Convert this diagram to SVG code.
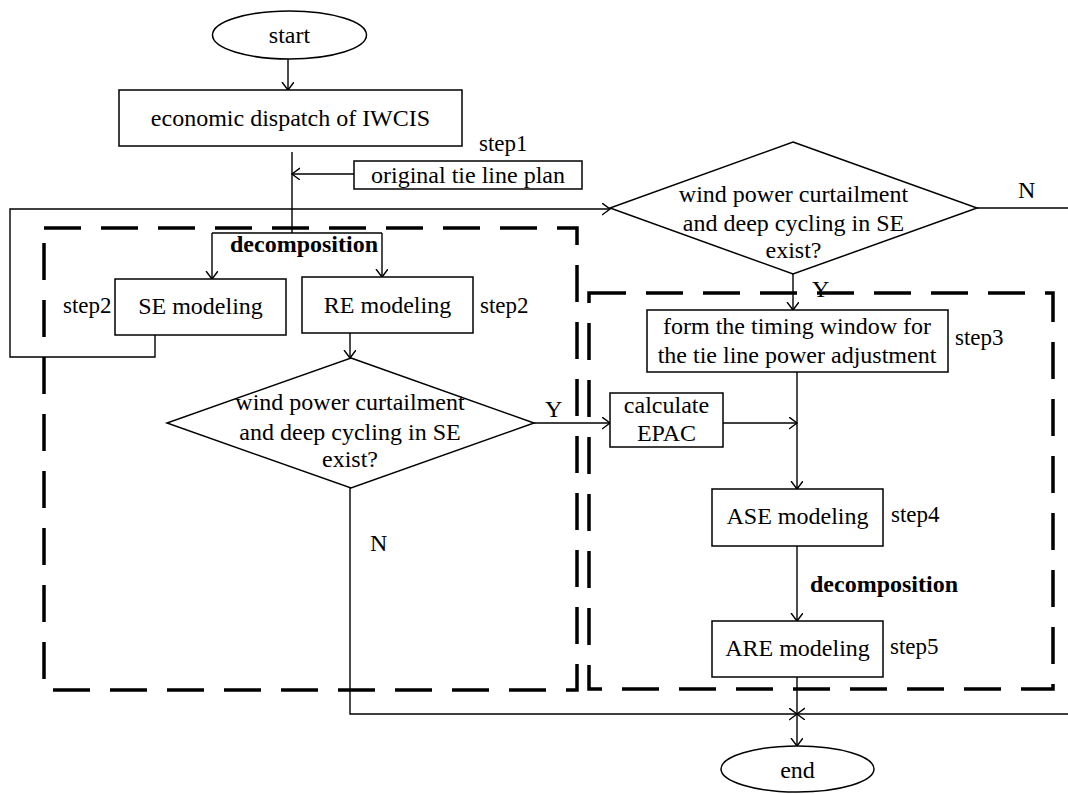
<svg xmlns="http://www.w3.org/2000/svg" width="1068" height="794" viewBox="0 0 1068 794">
<style>
text{font-family:"Liberation Serif","Times New Roman",serif;font-size:24px;fill:#000;text-anchor:middle}
.b{font-weight:bold}
.s{font-size:23px;text-anchor:start}
.l{text-anchor:start}
.n{fill:#fff;stroke:#000;stroke-width:1.5}
.c{fill:none;stroke:#000;stroke-width:1.4}
.d{fill:none;stroke:#000;stroke-width:3.5;stroke-dasharray:37 20}
</style>
<defs>
<marker id="a" markerUnits="userSpaceOnUse" markerWidth="12" markerHeight="14" refX="8" refY="6" orient="auto" viewBox="0 0 12 14">
<path d="M0,0 L8,6 L0,12" fill="none" stroke="#000" stroke-width="1.4"/>
</marker>
</defs>
<rect width="1068" height="794" fill="#fff"/>
<g id="regions">
<rect class="d" x="44" y="228" width="533" height="462"/>
<rect class="d" x="589" y="293" width="464" height="396"/>
</g>
<g id="connectors">
<path class="c" d="M288,59 V90" marker-end="url(#a)"/>
<path class="c" d="M292,152 V233"/>
<path class="c" d="M354,174 H292" marker-end="url(#a)"/>
<path class="c" d="M212,233 H382"/>
<path class="c" d="M212,233 V279" marker-end="url(#a)"/>
<path class="c" d="M382,233 V277" marker-end="url(#a)"/>
<path class="c" d="M155,335 V357 H10 V209 H610" marker-end="url(#a)"/>
<path class="c" d="M350,333 V358" marker-end="url(#a)"/>
<path class="c" d="M534,423 H610" marker-end="url(#a)"/>
<path class="c" d="M977,208 H1068"/>
<path class="c" d="M793,274 V310" marker-end="url(#a)"/>
<path class="c" d="M797,372 V489" marker-end="url(#a)"/>
<path class="c" d="M723,423 H797" marker-end="url(#a)"/>
<path class="c" d="M797,546 V621" marker-end="url(#a)"/>
<path class="c" d="M797,677 V746" marker-end="url(#a)"/>
<path class="c" d="M350,488 V714 H797" marker-end="url(#a)"/>
<path class="c" d="M1068,714 H797" marker-end="url(#a)"/>
<text x="370" y="551" class="l">N</text>
<text x="545" y="417" class="l">Y</text>
<text x="812" y="297" class="l">Y</text>
<text x="1018" y="198" class="l">N</text>
<text x="304" y="252" class="b">decomposition</text>
<text x="884" y="592" class="b">decomposition</text>
</g>
<g id="start">
<ellipse class="n" cx="289.5" cy="35" rx="77" ry="24"/>
<text x="289.5" y="43">start</text>
</g>
<g id="dispatch">
<rect class="n" x="119" y="90" width="343" height="56"/>
<text x="290.5" y="126">economic dispatch of IWCIS</text>
<text x="479" y="151" class="s">step1</text>
</g>
<g id="tieplan">
<rect class="n" x="354" y="161" width="228" height="28"/>
<text x="468" y="183">original tie line plan</text>
</g>
<g id="se">
<rect class="n" x="115" y="279" width="171" height="56"/>
<text x="200.5" y="314">SE modeling</text>
<text x="63" y="313" class="s">step2</text>
</g>
<g id="re">
<rect class="n" x="302" y="277" width="171" height="56"/>
<text x="387.5" y="313">RE modeling</text>
<text x="480" y="313" class="s">step2</text>
</g>
<g id="decision1">
<polygon class="n" points="351,358 534,423 351,488 167,423"/>
<text x="350" y="410">wind power curtailment</text>
<text x="350" y="440">and deep cycling in SE</text>
<text x="350" y="467">exist?</text>
</g>
<g id="decision2">
<polygon class="n" points="793,142 977,208 793,274 610,208"/>
<text x="793.5" y="202">wind power curtailment</text>
<text x="793.5" y="231">and deep cycling in SE</text>
<text x="793.5" y="258">exist?</text>
</g>
<g id="window">
<rect class="n" x="647" y="310" width="301" height="62"/>
<text x="797" y="334">form the timing window for</text>
<text x="797" y="363">the tie line power adjustment</text>
<text x="955" y="345" class="s">step3</text>
</g>
<g id="epac">
<rect class="n" x="610" y="393" width="113" height="54"/>
<text x="666.5" y="413">calculate</text>
<text x="666.5" y="441">EPAC</text>
</g>
<g id="ase">
<rect class="n" x="712" y="489" width="171" height="57"/>
<text x="797.5" y="524">ASE modeling</text>
<text x="891" y="522" class="s">step4</text>
</g>
<g id="are">
<rect class="n" x="712" y="621" width="171" height="56"/>
<text x="797.5" y="656">ARE modeling</text>
<text x="890" y="654" class="s">step5</text>
</g>
<g id="end">
<ellipse class="n" cx="797.5" cy="769" rx="76.5" ry="23"/>
<text x="797.5" y="778">end</text>
</g>
</svg>
